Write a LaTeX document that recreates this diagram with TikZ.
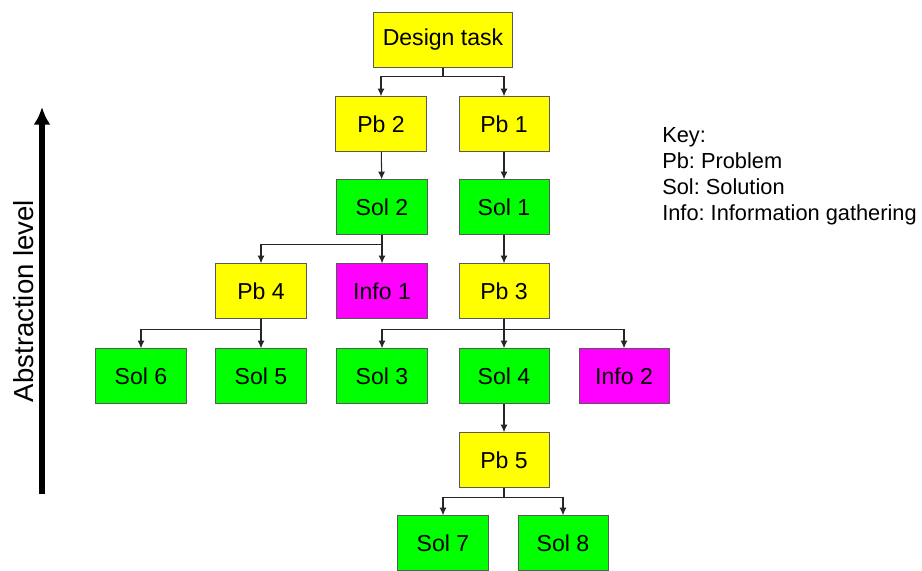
\documentclass[tikz,border=0pt]{standalone}
\usepackage{fontspec}
\setmainfont{Liberation Sans}
\usetikzlibrary{arrows.meta}
\definecolor{pbyellow}{RGB}{255,255,0}
\definecolor{solgreen}{RGB}{0,255,0}
\definecolor{infopink}{RGB}{255,0,255}
\frenchspacing

\begin{document}
\begin{tikzpicture}[x=0.025cm,y=-0.025cm]
	\tikzstyle{box}=[rectangle,draw=black!65,line width=0.7pt,minimum width=2.25cm,minimum height=1.36cm,inner sep=0pt,font=\fontsize{16.4}{19}\selectfont]
	\tikzstyle{pb}=[box,fill=pbyellow]
	\tikzstyle{sol}=[box,fill=solgreen]
	\tikzstyle{info}=[box,fill=infopink]
	\tikzstyle{link}=[-{Latex[length=5.5pt,width=5pt]},black!85,line width=0.75pt]
	\useasboundingbox (0,0) rectangle (922,571);
	% tree
	\node[pb,minimum width=3.45cm] (task) at (443,40){Design task};
	\node[pb] (pb2) at (381,124){Pb 2};
	\node[pb] (pb1) at (504,124){Pb 1};
	\node[sol] (sol2) at (382,207){Sol 2};
	\node[sol] (sol1) at (504,207){Sol 1};
	\node[pb] (pb4) at (261,291){Pb 4};
	\node[info] (info1) at (382,291){Info 1};
	\node[pb] (pb3) at (504,291){Pb 3};
	\node[sol] (sol6) at (141,376){Sol 6};
	\node[sol] (sol5) at (261,376){Sol 5};
	\node[sol] (sol3) at (382,376){Sol 3};
	\node[sol] (sol4) at (504,376){Sol 4};
	\node[info] (info2) at (624,376){Info 2};
	\node[pb] (pb5) at (504,460){Pb 5};
	\node[sol] (sol7) at (443,543){Sol 7};
	\node[sol] (sol8) at (563,543){Sol 8};
	% connectors
	\draw[link] (task.south) -- ++(0,9) -| (pb2.north);
	\draw[link] (task.south) -- ++(0,9) -| (pb1.north);
	\draw[link] (pb2) -- (sol2);
	\draw[link] (pb1) -- (sol1);
	\draw[link] (sol2) -- (info1);
	\draw[link] (sol2.south) -- ++(0,10) -| (pb4.north);
	\draw[link] (sol1) -- (pb3);
	\draw[link] (pb4.south) -- ++(0,11) -| (sol6.north);
	\draw[link] (pb4) -- (sol5);
	\draw[link] (pb3.south) -- ++(0,11) -| (sol3.north);
	\draw[link] (pb3) -- (sol4);
	\draw[link] (pb3.south) -- ++(0,11) -| (info2.north);
	\draw[link] (sol4) -- (pb5);
	\draw[link] (pb5.south) -- ++(0,10) -| (sol7.north);
	\draw[link] (pb5.south) -- ++(0,10) -| (sol8.north);
	% abstraction axis
	\coordinate (low) at (42,494);
	\coordinate (high) at (42,107);
	\draw[line width=4pt,-{Latex[length=12.5pt,width=12pt]}] (low) -- (high);
	\node[rotate=90,font=\fontsize{19.6}{22}\selectfont] (axis) at (24,301){Abstraction level};
	% key
	\node[anchor=north west,align=left,inner sep=0pt,font=\fontsize{15.5}{18.5}\selectfont] (key) at (662,127){Key:\\Pb: Problem\\Sol: Solution\\Info: Information gathering};
\end{tikzpicture}
\end{document}
